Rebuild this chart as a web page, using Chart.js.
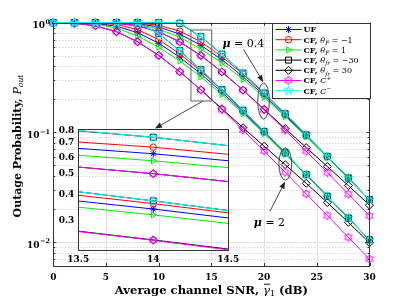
<!DOCTYPE html>
<html><head><meta charset="utf-8">
<script src="https://cdn.jsdelivr.net/npm/chart.js@4.4.1/dist/chart.umd.min.js"></script>
<style>
html,body{margin:0;padding:0;background:#fff;}
#wrap{position:relative;width:409px;height:300px;overflow:hidden;}
#wrap canvas{position:absolute;left:0;top:0;}
</style></head><body>
<div id="wrap"><canvas id="main" width="409" height="300"></canvas><canvas id="inset" width="409" height="300"></canvas></div>
<script>
// ---------- DATA ----------
const snr = [0, 2, 4, 6, 8, 10, 12, 14, 16, 18, 20, 22, 24, 26, 28, 30];
const xTicks = [0, 5, 10, 15, 20, 25, 30];
const yDecades = [1, 0.1, 0.01];
const yDecadeLabels = [["10", "0"], ["10", "-1"], ["10", "-2"]];
const insetXTicks = [13.5, 14, 14.5];
const insetYTicks = [0.3, 0.4, 0.5, 0.6, 0.7, 0.8];

// mu = 0.4 group
const uf_mu04     = [1.0, 1.0, 0.9999, 0.9979, 0.9794, 0.9137, 0.7869, 0.6229, 0.4596, 0.3218, 0.2173, 0.1432, 0.09293, 0.05969, 0.03808, 0.02421];
const fgmNeg_mu04 = [1.0, 1.0, 1.0, 0.9996, 0.9924, 0.9496, 0.8377, 0.6690, 0.4906, 0.3390, 0.2258, 0.1471, 0.09460, 0.06039, 0.03837, 0.02433];
const fgmPos_mu04 = [1.0, 1.0, 0.9999, 0.9961, 0.9665, 0.8778, 0.7360, 0.5769, 0.4286, 0.3045, 0.2088, 0.1394, 0.09125, 0.05898, 0.03779, 0.02409];
const frNeg_mu04  = [1.0, 1.0, 1.0, 1.0, 1.0, 1.0, 0.9873, 0.7450, 0.5169, 0.3472, 0.2282, 0.1478, 0.09478, 0.06044, 0.03838, 0.02433];
const frPos_mu04  = [1.0, 1.0, 0.9992, 0.9878, 0.9376, 0.8262, 0.6685, 0.5018, 0.3558, 0.2427, 0.1623, 0.1082, 0.07253, 0.04878, 0.03266, 0.02167];
const cPlus_mu04  = [1.0, 1.0, 0.9991, 0.9877, 0.9376, 0.8262, 0.6685, 0.5018, 0.3557, 0.2422, 0.1605, 0.1045, 0.06730, 0.04301, 0.02735, 0.01735];
const cMinus_mu04 = [1.0, 1.0, 1.0, 1.0, 1.0, 1.0, 1.0, 0.7450, 0.5169, 0.3472, 0.2282, 0.1478, 0.09478, 0.06044, 0.03838, 0.02433];

// mu = 2 group
const uf_mu2      = [1.0, 0.9987, 0.9847, 0.9285, 0.8107, 0.6501, 0.4844, 0.3417, 0.2318, 0.1533, 0.09968, 0.06411, 0.04094, 0.02603, 0.01650, 0.01045];
const fgmNeg_mu2  = [1.0, 0.9998, 0.9955, 0.9631, 0.8647, 0.7021, 0.5209, 0.3625, 0.2423, 0.1581, 0.1018, 0.06499, 0.04130, 0.02618, 0.01656, 0.01047];
const fgmPos_mu2  = [0.9999, 0.9975, 0.9739, 0.8938, 0.7566, 0.5980, 0.4480, 0.3208, 0.2214, 0.1485, 0.09759, 0.06322, 0.04057, 0.02588, 0.01644, 0.01043];
const frNeg_mu2   = [1.0, 1.0, 1.0, 1.0, 0.9982, 0.7986, 0.5552, 0.3733, 0.2454, 0.1590, 0.1020, 0.06505, 0.04132, 0.02618, 0.01656, 0.01047];
const frPos_mu2   = [0.9995, 0.9885, 0.9385, 0.8277, 0.6703, 0.5035, 0.3573, 0.2443, 0.1641, 0.1103, 0.07472, 0.05073, 0.03426, 0.02289, 0.01509, 0.009841];
const cPlus_mu2   = [0.9991, 0.9879, 0.9384, 0.8277, 0.6703, 0.5034, 0.3570, 0.2432, 0.1612, 0.1050, 0.06761, 0.04321, 0.02748, 0.01743, 0.01103, 0.006980];
const cMinus_mu2  = [1.0, 1.0, 1.0, 1.0, 1.0, 0.7987, 0.5552, 0.3733, 0.2454, 0.1590, 0.1020, 0.06505, 0.04132, 0.02618, 0.01656, 0.01047];

const yMin = 0.00604, yMax = 1;
const insetYMin = 0.219, insetYMax = 0.815;

// ---------- STYLE ----------
const SERIF = "'DejaVu Serif', 'Liberation Serif', serif";
const AXC = '#333333';

function makeStarImage(points, color, outer, innerRatio) {
  const s = Math.ceil(outer * 2 + 3);
  const c = document.createElement('canvas'); c.width = s; c.height = s;
  const g = c.getContext('2d');
  g.strokeStyle = color; g.lineWidth = 1;
  g.beginPath();
  for (let i = 0; i < points * 2; i++) {
    const r = i % 2 === 0 ? outer : outer * innerRatio;
    const a = -Math.PI / 2 + i * Math.PI / points;
    const px = s / 2 + r * Math.cos(a), py = s / 2 + r * Math.sin(a);
    if (i === 0) g.moveTo(px, py); else g.lineTo(px, py);
  }
  g.closePath(); g.stroke();
  return c;
}
const hexImg = makeStarImage(6, '#ff00ff', 4.2, 0.577);
const pentImg = makeStarImage(5, '#00ffff', 4.8, 0.40);

const seriesStyle = [
  { color: '#0000ff', point: 'star', radius: 3.5, rot: 0 },
  { color: '#ff0000', point: 'circle', radius: 3.2, rot: 0 },
  { color: '#00ee00', point: 'triangle', radius: 3.6, rot: 90 },
  { color: '#000000', point: 'rect', radius: 4.2, rot: 0 },
  { color: '#000000', point: 'rectRot', radius: 4, rot: 0 },
  { color: '#ff00ff', point: hexImg, radius: 4, rot: 0 },
  { color: '#00ffff', point: pentImg, radius: 4.5, rot: 0 },
];
const seriesValues = [
  [uf_mu04, uf_mu2], [fgmNeg_mu04, fgmNeg_mu2], [fgmPos_mu04, fgmPos_mu2],
  [frNeg_mu04, frNeg_mu2], [frPos_mu04, frPos_mu2], [cPlus_mu04, cPlus_mu2], [cMinus_mu04, cMinus_mu2]
];

function buildDatasets(clip) {
  const ds = [];
  seriesValues.forEach((pair, si) => {
    const st = seriesStyle[si];
    pair.forEach(arr => {
      ds.push({
        data: snr.map((x, i) => ({ x: x, y: arr[i] })),
        borderColor: st.color, borderWidth: 1,
        pointStyle: st.point, pointRadius: st.radius, pointRotation: st.rot,
        pointBorderColor: st.color, pointBackgroundColor: 'rgba(0,0,0,0)', pointBorderWidth: 1,
        tension: 0, fill: false, clip: clip, order: 6 - si
      });
    });
  });
  return ds;
}

// ---------- rich text helper ----------
function segFont(s, base) {
  const size = base * (s.scale || 1);
  return (s.italic ? 'italic ' : '') + (s.bold === false ? '' : 'bold ') + size + 'px ' + SERIF;
}
function richWidth(ctx, segs, base) {
  let w = 0;
  for (const s of segs) { ctx.font = segFont(s, base); w += ctx.measureText(s.t).width; }
  return w;
}
function drawRich(ctx, segs, x, y, base, align) {
  const w = richWidth(ctx, segs, base);
  let cx = align === 'center' ? x - w / 2 : (align === 'right' ? x - w : x);
  ctx.textAlign = 'left'; ctx.textBaseline = 'alphabetic';
  for (const s of segs) {
    ctx.font = segFont(s, base);
    const sw = ctx.measureText(s.t).width;
    ctx.fillText(s.t, cx, y + (s.dy || 0) * base);
    if (s.bar) {
      ctx.save(); ctx.lineWidth = 0.9; ctx.strokeStyle = ctx.fillStyle;
      ctx.beginPath(); ctx.moveTo(cx + 1, y - 0.8 * base); ctx.lineTo(cx + sw + 0.5, y - 0.8 * base); ctx.stroke();
      ctx.restore();
    }
    cx += sw;
  }
}

function drawMarker(ctx, st, x, y) {
  ctx.save();
  ctx.strokeStyle = st.color; ctx.lineWidth = 1;
  const r = st.radius;
  if (st.point instanceof HTMLCanvasElement) {
    ctx.drawImage(st.point, x - st.point.width / 2, y - st.point.height / 2);
  } else {
    ctx.beginPath();
    if (st.point === 'star') {
      ctx.moveTo(x - r, y); ctx.lineTo(x + r, y); ctx.moveTo(x, y - r); ctx.lineTo(x, y + r);
      const d = r * Math.SQRT1_2;
      ctx.moveTo(x - d, y - d); ctx.lineTo(x + d, y + d); ctx.moveTo(x - d, y + d); ctx.lineTo(x + d, y - d);
    } else if (st.point === 'circle') {
      ctx.arc(x, y, r, 0, Math.PI * 2);
    } else if (st.point === 'triangle') {
      ctx.moveTo(x + r, y); ctx.lineTo(x - r / 2, y - r * 0.866); ctx.lineTo(x - r / 2, y + r * 0.866); ctx.closePath();
    } else if (st.point === 'rect') {
      const h = r * Math.SQRT1_2; ctx.rect(x - h, y - h, 2 * h, 2 * h);
    } else if (st.point === 'rectRot') {
      ctx.moveTo(x, y - r); ctx.lineTo(x + r, y); ctx.lineTo(x, y + r); ctx.lineTo(x - r, y); ctx.closePath();
    }
    ctx.stroke();
  }
  ctx.restore();
}

function drawArrow(ctx, x0, y0, x1, y1) {
  const head = 7, w = 2.8;
  const ang = Math.atan2(y1 - y0, x1 - x0);
  const bx = x1 - head * Math.cos(ang), by = y1 - head * Math.sin(ang);
  ctx.beginPath(); ctx.moveTo(x0, y0); ctx.lineTo(bx, by); ctx.stroke();
  ctx.beginPath(); ctx.moveTo(x1, y1);
  ctx.lineTo(bx + w * Math.sin(ang), by - w * Math.cos(ang));
  ctx.lineTo(bx - w * Math.sin(ang), by + w * Math.cos(ang));
  ctx.closePath(); ctx.fill();
}

// annotation placements (data coordinates)
const zoomBox = { x0: 13.06, x1: 15.03, y0: 0.193, y1: 0.858 };
const zoomArrow = { from: [14.2, 0.193], to: [9.65, 0.1086] };
const ell04 = { x0: 19.4, x1: 20.5, y0: 0.1323, y1: 0.282 };
const lab04 = { x: 18.03, y: 0.649 };
const arr04 = { from: [18.05, 0.57], to: [19.92, 0.287] };
const ell2 = { x0: 21.4, x1: 22.62, y0: 0.0367, y1: 0.0720 };
const lab2 = { x: 20.51, y: 0.0152 };
const arr2 = { from: [20.56, 0.0191], to: [21.99, 0.0355] };

const legendEntries = [
  [{ t: 'UF' }],
  [{ t: 'CF, ' }, { t: 'θ', italic: true, bold: false }, { t: 'F', italic: true, bold: false, scale: 0.72, dy: 0.3 }, { t: ' = −1', bold: false }],
  [{ t: 'CF, ' }, { t: 'θ', italic: true, bold: false }, { t: 'F', italic: true, bold: false, scale: 0.72, dy: 0.3 }, { t: ' = 1', bold: false }],
  [{ t: 'CF, ' }, { t: 'θ', italic: true, bold: false }, { t: 'fr', italic: true, bold: false, scale: 0.72, dy: 0.3 }, { t: ' = −30', bold: false }],
  [{ t: 'CF, ' }, { t: 'θ', italic: true, bold: false }, { t: 'fr', italic: true, bold: false, scale: 0.72, dy: 0.3 }, { t: ' = 30', bold: false }],
  [{ t: 'CF, ' }, { t: 'C', italic: true, bold: false }, { t: '+', bold: false, scale: 0.72, dy: -0.4 }],
  [{ t: 'CF, ' }, { t: 'C', italic: true, bold: false }, { t: '−', bold: false, scale: 0.72, dy: -0.4 }],
];

const mainDecor = {
  id: 'mainDecor',
  beforeDatasetsDraw(chart) {
    const { ctx, chartArea: a, scales: { x, y } } = chart;
    ctx.save();
    ctx.strokeStyle = '#c8c8c8'; ctx.lineWidth = 1; ctx.setLineDash([1, 2]);
    for (let e = -3; e <= 0; e++) for (let m = 2; m <= 9; m++) {
      const v = m * Math.pow(10, e);
      if (v <= yMin || v >= yMax) continue;
      const py = Math.round(y.getPixelForValue(v)) + 0.5;
      ctx.beginPath(); ctx.moveTo(a.left, py); ctx.lineTo(a.right, py); ctx.stroke();
    }
    ctx.setLineDash([]);
    ctx.strokeStyle = '#e4e4e4';
    for (const v of xTicks) {
      if (v <= 0 || v >= 30) continue;
      const px = Math.round(x.getPixelForValue(v)) + 0.5;
      ctx.beginPath(); ctx.moveTo(px, a.top); ctx.lineTo(px, a.bottom); ctx.stroke();
    }
    for (const v of yDecades) {
      if (v <= yMin || v >= yMax) continue;
      const py = Math.round(y.getPixelForValue(v)) + 0.5;
      ctx.beginPath(); ctx.moveTo(a.left, py); ctx.lineTo(a.right, py); ctx.stroke();
    }
    ctx.restore();
  },
  afterDraw(chart) {
    const { ctx, chartArea: a, scales: { x, y } } = chart;
    const P = (xv, yv) => [x.getPixelForValue(xv), y.getPixelForValue(yv)];
    ctx.save();
    ctx.strokeStyle = AXC; ctx.lineWidth = 1;
    ctx.strokeRect(Math.round(a.left) + 0.5, Math.round(a.top) + 0.5, Math.round(a.right - a.left), Math.round(a.bottom - a.top));
    const tl = 3;
    ctx.beginPath();
    for (const v of xTicks) {
      const px = Math.round(x.getPixelForValue(v)) + 0.5;
      ctx.moveTo(px, a.bottom); ctx.lineTo(px, a.bottom - tl);
      ctx.moveTo(px, a.top); ctx.lineTo(px, a.top + tl);
    }
    for (let e = -3; e <= 0; e++) for (let m = 1; m <= 9; m++) {
      const v = m * Math.pow(10, e);
      if (v < yMin || v > yMax) continue;
      const py = Math.round(y.getPixelForValue(v)) + 0.5;
      const len = m === 1 ? tl : 2;
      ctx.moveTo(a.left, py); ctx.lineTo(a.left + len, py);
      ctx.moveTo(a.right, py); ctx.lineTo(a.right - len, py);
    }
    ctx.stroke();
    ctx.fillStyle = '#000';
    yDecades.forEach((v, i) => {
      const py = y.getPixelForValue(v);
      const [base, sup] = yDecadeLabels[i];
      ctx.font = 'bold 6.5px ' + SERIF;
      const sw = ctx.measureText(sup.replace('-', '−')).width;
      ctx.textAlign = 'right'; ctx.textBaseline = 'alphabetic';
      ctx.fillText(sup.replace('-', '−'), 50, py + 1.2);
      ctx.font = 'bold 9px ' + SERIF;
      ctx.fillText(base, 50 - sw - 0.5, py + 5.6);
    });
    drawRich(ctx, [{ t: 'Average channel SNR, ' }, { t: 'γ', italic: true, bold: false, bar: true }, { t: '1', bold: false, scale: 0.7, dy: 0.25 }, { t: ' (dB)' }],
      (a.left + a.right) / 2, 293.5, 11.6, 'center');
    ctx.save(); ctx.translate(20.5, 146); ctx.rotate(-Math.PI / 2);
    drawRich(ctx, [{ t: 'Outage Probability, ' }, { t: 'P', italic: true, bold: false }, { t: 'out', italic: true, bold: false, scale: 0.7, dy: 0.25 }], 0, 0, 11, 'center');
    ctx.restore();

    const L = { x0: 272.5, x1: Math.round(a.right) + 0.5, y0: Math.round(a.top) + 0.5, y1: 98.5 };
    ctx.fillStyle = '#fff';
    ctx.fillRect(L.x0, L.y0, L.x1 - L.x0, L.y1 - L.y0);
    ctx.strokeStyle = AXC; ctx.lineWidth = 1;
    ctx.strokeRect(L.x0, L.y0, L.x1 - L.x0, L.y1 - L.y0);
    legendEntries.forEach((segs, i) => {
      const cy = 29.5 + i * 10.2;
      const st = seriesStyle[i];
      ctx.strokeStyle = st.color; ctx.lineWidth = 1;
      ctx.beginPath(); ctx.moveTo(275.5, cy); ctx.lineTo(301.5, cy); ctx.stroke();
      drawMarker(ctx, st, 288.5, cy);
      ctx.fillStyle = '#000';
      drawRich(ctx, segs, 303.5, cy + 2.9, 8, 'left');
    });

    ctx.strokeStyle = '#555'; ctx.fillStyle = '#222'; ctx.lineWidth = 0.9;
    const [bx0, by1] = P(zoomBox.x0, zoomBox.y1), [bx1, by0] = P(zoomBox.x1, zoomBox.y0);
    ctx.strokeRect(bx0, by1, bx1 - bx0, by0 - by1);
    ctx.strokeStyle = '#333';
    let f = P(...zoomArrow.from), t = P(...zoomArrow.to);
    drawArrow(ctx, f[0], f[1], t[0], t[1]);
    for (const e of [ell04, ell2]) {
      const [ex0, ey0] = P(e.x0, e.y1), [ex1, ey1] = P(e.x1, e.y0);
      ctx.beginPath();
      ctx.ellipse((ex0 + ex1) / 2, (ey0 + ey1) / 2, (ex1 - ex0) / 2, (ey1 - ey0) / 2, 0, 0, Math.PI * 2);
      ctx.stroke();
    }
    f = P(...arr04.from); t = P(...arr04.to); drawArrow(ctx, f[0], f[1], t[0], t[1]);
    f = P(...arr2.from); t = P(...arr2.to); drawArrow(ctx, f[0], f[1], t[0], t[1]);
    ctx.fillStyle = '#000';
    let lp = P(lab04.x, lab04.y);
    drawRich(ctx, [{ t: 'μ', italic: true }, { t: ' = 0.4', bold: false }], lp[0], lp[1] + 4, 11, 'center');
    lp = P(lab2.x, lab2.y);
    drawRich(ctx, [{ t: 'μ', italic: true }, { t: ' = 2', bold: false }], lp[0], lp[1] + 4, 11, 'center');
    ctx.restore();
  }
};

new Chart(document.getElementById('main'), {
  type: 'line',
  data: { datasets: buildDatasets(false) },
  options: {
    responsive: false, animation: false, events: [],
    layout: { padding: { left: 0, top: 22.7, right: 39.5, bottom: 0 } },
    scales: {
      x: {
        type: 'linear', min: 0, max: 30,
        afterBuildTicks(s) { s.ticks = xTicks.map(v => ({ value: v })); },
        ticks: { font: { family: SERIF, size: 9, weight: 'bold' }, color: '#000', padding: 6, maxRotation: 0, autoSkip: false },
        grid: { display: false, drawTicks: false }, border: { display: false },
        afterFit(s) { s.height = 34; }
      },
      y: {
        type: 'logarithmic', min: yMin, max: yMax,
        ticks: { display: false }, grid: { display: false, drawTicks: false }, border: { display: false },
        afterFit(s) { s.width = 53.3; }
      }
    },
    plugins: { legend: { display: false }, tooltip: { enabled: false } }
  },
  plugins: [mainDecor]
});

const insetDecor = {
  id: 'insetDecor',
  afterDraw(chart) {
    const { ctx, chartArea: a } = chart;
    ctx.save();
    ctx.strokeStyle = AXC; ctx.lineWidth = 1;
    ctx.strokeRect(Math.round(a.left) + 0.5, Math.round(a.top) + 0.5, Math.round(a.right - a.left), Math.round(a.bottom - a.top));
    ctx.restore();
  }
};

new Chart(document.getElementById('inset'), {
  type: 'line',
  data: { datasets: buildDatasets(0) },
  options: {
    responsive: false, animation: false, events: [],
    layout: { padding: { left: 48.3, top: 129, right: 180.7, bottom: 30 } },
    scales: {
      x: {
        type: 'linear', min: 13.5, max: 14.5,
        afterBuildTicks(s) { s.ticks = insetXTicks.map(v => ({ value: v })); },
        ticks: { font: { family: SERIF, size: 9, weight: 'bold' }, color: '#000', padding: 4.5, maxRotation: 0, autoSkip: false, callback: v => String(v) },
        grid: { display: false, drawTicks: false }, border: { display: false },
        afterFit(s) { s.height = 20; }
      },
      y: {
        type: 'logarithmic', min: insetYMin, max: insetYMax,
        afterBuildTicks(s) { s.ticks = insetYTicks.map(v => ({ value: v })); },
        ticks: { font: { family: SERIF, size: 9, weight: 'bold' }, color: '#000', padding: 4, autoSkip: false, callback: v => v.toFixed(1) },
        grid: { display: false, drawTicks: false }, border: { display: false },
        afterFit(s) { s.width = 30; }
      }
    },
    plugins: { legend: { display: false }, tooltip: { enabled: false } }
  },
  plugins: [insetDecor]
});
</script>
</body></html>
